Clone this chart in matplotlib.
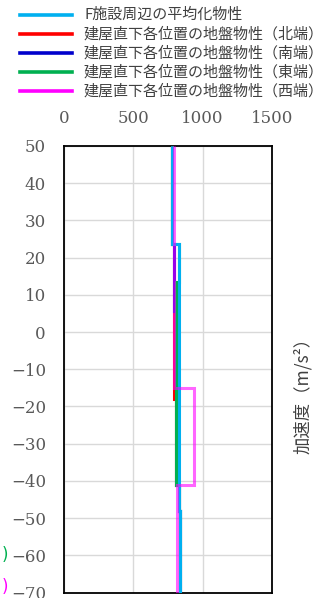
import matplotlib
matplotlib.use("Agg")
import matplotlib.pyplot as plt
from matplotlib.lines import Line2D

# ---- data (elevation edges bottom->top, values per layer bottom->top) ----
labels = ["F施設周辺の平均化物性",
          "建屋直下各位置の地盤物性（北端）",
          "建屋直下各位置の地盤物性（南端）",
          "建屋直下各位置の地盤物性（東端）",
          "建屋直下各位置の地盤物性（西端）"]
colors = ["#00B0F0", "#FF0000", "#0000CC", "#00B050", "#FF00FF"]

avg_edges = [-70, -48.2, 23.6, 50]
avg_vals = [834, 826, 777]

north_edges = [-70, -48.2, -41, -18.1, 23.6, 50]
north_vals = [834, 826, 808, 792, 777]

south_edges = [-70, -48.2, -41, 5.6, 23.6, 50]
south_vals = [834, 826, 808, 796, 777]

east_edges = [-70, -48.2, -41, 13.4, 23.6, 50]
east_vals = [834, 826, 808, 826, 777]

west_edges = [-70, -41, -15, 50]
west_vals = [814, 934, 796]

xticks = [0, 500, 1000, 1500]
yticks = list(range(-70, 51, 10))

fig = plt.figure(figsize=(3.26, 5.98), dpi=100)
ax = fig.add_axes([64/326, 5.5/598, 208/326, 446.5/598])

lw = 2.2
ax.stairs(north_vals, north_edges, orientation="horizontal", baseline=None,
          color=colors[1], lw=lw, zorder=3)
ax.stairs(south_vals, south_edges, orientation="horizontal", baseline=None,
          color=colors[2], lw=lw, zorder=3)
ax.stairs(east_vals, east_edges, orientation="horizontal", baseline=None,
          color=colors[3], lw=lw, zorder=3)
ax.stairs(avg_vals, avg_edges, orientation="horizontal", baseline=None,
          color=colors[0], lw=lw, zorder=3)
ax.stairs(west_vals, west_edges, orientation="horizontal", baseline=None,
          color=colors[4], lw=lw, alpha=0.6, zorder=4)

ax.set_xlim(0, 1500)
ax.set_ylim(-70, 50)
ax.set_xticks(xticks)
ax.set_yticks(yticks)
ax.xaxis.tick_top()
ax.grid(True, color="#D9D9D9", lw=1)
ax.set_axisbelow(True)
for s in ax.spines.values():
    s.set_color("black")
    s.set_linewidth(1.3)
ax.tick_params(axis="both", length=0, labelcolor="#595959", labelsize=12)
ax.tick_params(axis="x", pad=14)
ax.tick_params(axis="y", pad=13)
for t in ax.get_xticklabels() + ax.get_yticklabels():
    t.set_fontfamily("DejaVu Serif")
ax.set_yticklabels([str(v).replace("-", "\u2212") for v in yticks])

ax.yaxis.set_label_position("right")
ax.set_ylabel("加速度（m/s²）", family=["Noto Sans CJK JP", "DejaVu Sans"],
              color="#404040", fontsize=12.5)
ax.yaxis.set_label_coords(1.105, 0.45)

# legend (manual, figure coordinates)
rows_y = [15, 34, 53, 72, 91]
for lab, col, yy in zip(labels, colors, rows_y):
    yf = 1 - yy / 598
    fig.add_artist(Line2D([20/326, 72/326], [yf, yf], color=col, lw=2.6))
    fig.text(84/326, yf, lab, family=["Noto Sans CJK JP", "DejaVu Sans"],
             fontsize=10.8, color="#404040", va="center", ha="left")

# cropped fragments at left edge
fig.text(2/326, 1 - 555/598, ")", color=colors[3], fontsize=12, va="center",
         family="DejaVu Sans")
fig.text(2/326, 1 - 587/598, ")", color=colors[4], fontsize=12, va="center",
         family="DejaVu Sans")

fig.savefig("out.png", dpi=100)
